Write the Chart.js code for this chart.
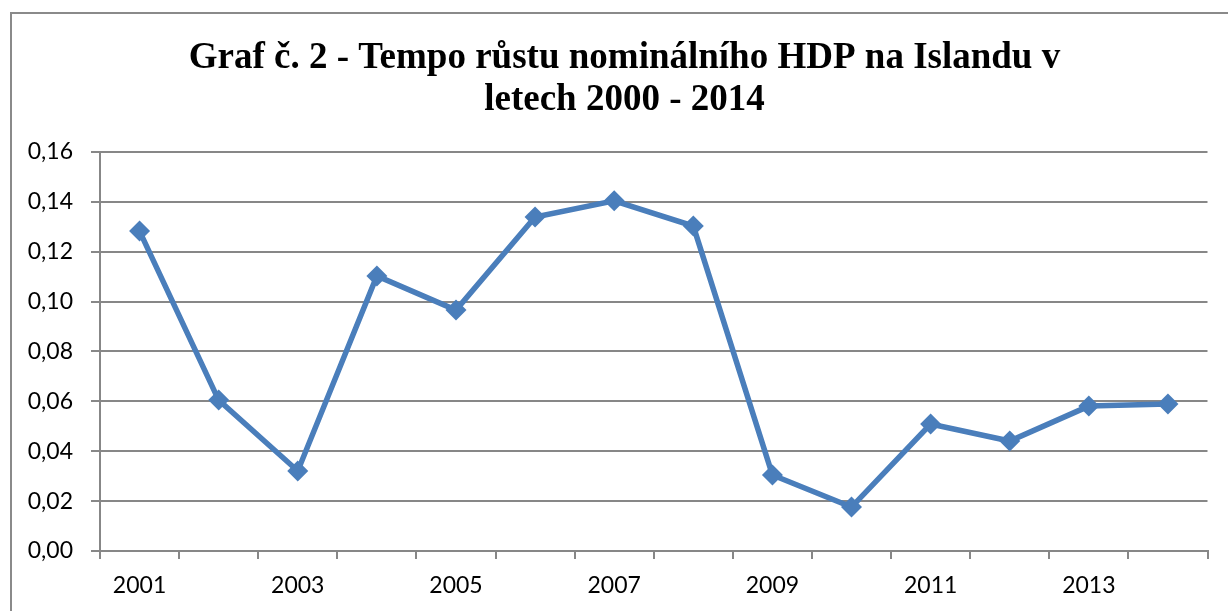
<!DOCTYPE html>
<html>
<head>
<meta charset="utf-8">
<script src="https://cdn.jsdelivr.net/npm/chart.js@4"></script>
<style>
html,body{margin:0;padding:0;background:#fff;}
#wrap{width:1228px;height:611px;position:relative;}
</style>
</head>
<body>
<div id="wrap"><canvas id="c" width="1228" height="611"></canvas></div>
<script>
const years = ['2001','2002','2003','2004','2005','2006','2007','2008','2009','2010','2011','2012','2013','2014'];
const growth = [0.1283,0.0605,0.0321,0.1103,0.0966,0.1339,0.1404,0.1303,0.0305,0.0176,0.0509,0.0441,0.0581,0.0589];
const titleLines = ['Graf č. 2 - Tempo růstu nominálního HDP na Islandu v','letech 2000 - 2014'];
const yMin = 0, yMax = 0.16, yStep = 0.02;

const gridColor = '#878787';
const frame = {
  id: 'frame',
  beforeDraw(chart){
    const ctx = chart.ctx;
    ctx.save();
    ctx.fillStyle = '#fff';
    ctx.fillRect(0,0,chart.width,chart.height);
    ctx.strokeStyle = '#8a8a8a';
    ctx.lineWidth = 2;
    ctx.strokeRect(11,13,1400,800);
    ctx.restore();
  }
};

new Chart(document.getElementById('c'), {
  type: 'line',
  data: {
    labels: years,
    datasets: [{
      data: growth,
      borderColor: '#4A7EBB',
      backgroundColor: '#4A7EBB',
      borderWidth: 5.5,
      tension: 0,
      pointStyle: 'rectRot',
      pointRadius: 10.5,
      pointHoverRadius: 10.5,
      pointBackgroundColor: '#4A7EBB',
      pointBorderColor: '#4A7EBB',
      pointBorderWidth: 0
    }]
  },
  options: {
    responsive: false,
    animation: false,
    devicePixelRatio: 1,
    layout: { padding: { left: 21, right: 0, top: 0, bottom: 0 } },
    plugins: {
      legend: { display: false },
      tooltip: { enabled: false },
      title: {
        display: true,
        text: titleLines,
        color: '#000',
        font: { family: 'Liberation Serif', weight: 'bold', size: 37, lineHeight: 1.135 },
        padding: { top: 37, bottom: 31 }
      }
    },
    scales: {
      x: {
        type: 'category',
        offset: true,
        afterFit(s){ s.height = 60; },
        grid: { display: true, drawOnChartArea: false, drawTicks: true, tickLength: 8, offset: true, color: gridColor, lineWidth: 2 },
        border: { display: true, color: gridColor, width: 2 },
        ticks: {
          autoSkip: false, maxRotation: 0, color: '#000', padding: 13,
          font: { family: 'Lato', size: 23 },
          callback(v, i){ return i % 2 === 0 ? years[i] : ''; }
        }
      },
      y: {
        min: yMin, max: yMax,
        afterFit(s){ s.width = 79; },
        grid: { color: gridColor, lineWidth: 2, tickLength: 9 },
        border: { display: true, color: gridColor, width: 2 },
        ticks: {
          stepSize: yStep, color: '#000', padding: 18,
          font: { family: 'Lato', size: 23 },
          callback(v){ return v.toFixed(2).replace('.', ','); }
        }
      },
      yRightSpacer: {
        position: 'right',
        min: yMin, max: yMax,
        afterFit(s){ s.width = 20.5; },
        grid: { display: false, drawTicks: false },
        border: { display: false },
        ticks: { display: false }
      }
    }
  },
  plugins: [frame]
});
</script>
</body>
</html>
